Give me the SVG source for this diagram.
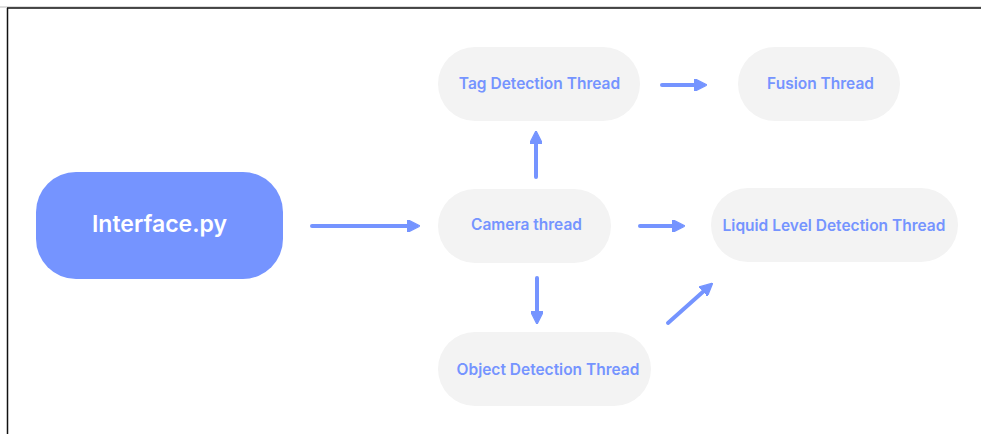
<svg xmlns="http://www.w3.org/2000/svg" width="981" height="434" viewBox="0 0 981 434">
  <style>
    .pill { fill: #f3f3f3; }
    .lbl { font-family: Inter, "Noto Sans", sans-serif; font-weight: 600; font-size: 15.5px; fill: #7594ff; text-anchor: middle; dominant-baseline: central; }
    .main { fill: #7594ff; }
    .mainlbl { font-family: Inter, "Noto Sans", sans-serif; font-weight: 600; font-size: 23px; fill: #ffffff; text-anchor: middle; dominant-baseline: central; }
    .edge { stroke: #7594ff; stroke-width: 4; stroke-linecap: round; fill: none; marker-end: url(#head); }
  </style>
  <defs>
    <marker id="head" viewBox="0 0 10 10" refX="2" refY="5" markerWidth="3.2" markerHeight="3.2" orient="auto" markerUnits="strokeWidth">
      <path d="M0,0 L10,5 L0,10 Z" fill="#7594ff" stroke="#7594ff" stroke-width="1" stroke-linejoin="round"/>
    </marker>
  </defs>
  <rect width="981" height="434" fill="#ffffff"/>
  <!-- frame -->
  <line x1="0" y1="7" x2="981" y2="7" stroke="#bbbbbb" stroke-width="1"/>
  <line x1="7" y1="8" x2="981" y2="8" stroke="#111111" stroke-width="1.5"/>
  <line x1="7.5" y1="8" x2="7.5" y2="434" stroke="#111111" stroke-width="1.5"/>

  <g id="interface">
    <rect class="main" x="36" y="172" width="247" height="107" rx="40"/>
    <text class="mainlbl" x="159.5" y="224">Interface.py</text>
  </g>
  <g id="tag">
    <rect class="pill" x="438" y="47" width="202" height="74" rx="37"/>
    <text class="lbl" x="539.5" y="83.5">Tag Detection Thread</text>
  </g>
  <g id="fusion">
    <rect class="pill" x="738" y="47" width="162" height="74" rx="37"/>
    <text class="lbl" x="820.5" y="83.5">Fusion Thread</text>
  </g>
  <g id="camera">
    <rect class="pill" x="438" y="189" width="173" height="74" rx="37"/>
    <text class="lbl" x="526.5" y="224.5">Camera thread</text>
  </g>
  <g id="liquid">
    <rect class="pill" x="711" y="188" width="247" height="74" rx="37"/>
    <text class="lbl" x="834" y="225">Liquid Level Detection Thread</text>
  </g>
  <g id="object">
    <rect class="pill" x="438" y="332" width="213" height="74" rx="37"/>
    <text class="lbl" x="548" y="369">Object Detection Thread</text>
  </g>

  <g id="connectors">
    <line class="edge" x1="312" y1="226" x2="410" y2="226"/>
    <line class="edge" x1="662" y1="85" x2="697" y2="85"/>
    <line class="edge" x1="536" y1="177" x2="536" y2="141"/>
    <line class="edge" x1="640" y1="226" x2="675" y2="226"/>
    <line class="edge" x1="537" y1="278" x2="537" y2="314"/>
    <line class="edge" x1="668" y1="323" x2="705" y2="290"/>
  </g>
</svg>
